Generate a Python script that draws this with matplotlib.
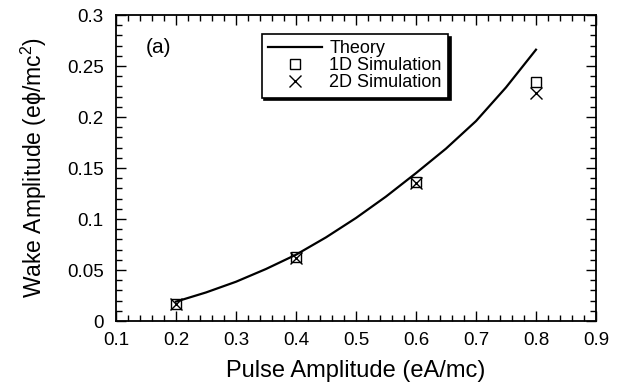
import matplotlib
matplotlib.use("Agg")
import matplotlib.pyplot as plt
from matplotlib.ticker import MultipleLocator

plt.rcParams['font.family'] = ['Liberation Sans', 'DejaVu Sans']
plt.rcParams['mathtext.fontset'] = 'custom'
plt.rcParams['mathtext.rm'] = 'Liberation Sans'
plt.rcParams['mathtext.it'] = 'Liberation Sans'

# Theory curve
theory_x = [0.2, 0.25, 0.3, 0.35, 0.4, 0.45, 0.5, 0.55, 0.6, 0.65, 0.7, 0.75, 0.8]
theory_y = [0.019, 0.028, 0.0385, 0.051, 0.065, 0.082, 0.101, 0.122, 0.145, 0.169, 0.196, 0.229, 0.266]

sim_x = [0.2, 0.4, 0.6, 0.8]
sim1d_y = [0.017, 0.063, 0.136, 0.234]
sim2d_y = [0.017, 0.062, 0.135, 0.224]

fig = plt.figure(figsize=(6.21, 3.91), dpi=100)
ax = fig.add_axes([0.1868, 0.179, 0.9597 - 0.1868, 0.9616 - 0.179])

ax.plot(theory_x, theory_y, color='black', lw=1.6, label='Theory', solid_joinstyle='round')
ax.plot(sim_x, sim1d_y, ls='none', marker='s', mfc='none', mec='black', ms=7.5, mew=1.0, label='1D Simulation')
ax.plot(sim_x, sim2d_y, ls='none', marker='x', color='black', ms=8, mew=1.0, label='2D Simulation')

ax.set_xlim(0.1, 0.9)
ax.set_ylim(0, 0.3)
ax.xaxis.set_minor_locator(MultipleLocator(0.02))
ax.yaxis.set_minor_locator(MultipleLocator(0.01))
ax.set_xticks([0.1, 0.2, 0.3, 0.4, 0.5, 0.6, 0.7, 0.8, 0.9])
ax.set_xticklabels(['0.1', '0.2', '0.3', '0.4', '0.5', '0.6', '0.7', '0.8', '0.9'])
ax.set_yticks([0, 0.05, 0.1, 0.15, 0.2, 0.25, 0.3])
ax.set_yticklabels(['0', '0.05', '0.1', '0.15', '0.2', '0.25', '0.3'])
ax.tick_params(which='both', direction='in', top=True, right=True, labelsize=13.5, width=1)
ax.tick_params(axis='x', which='major', length=7, pad=8)
ax.tick_params(axis='y', which='major', length=7, pad=9)
ax.tick_params(which='minor', length=4)
for s in ax.spines.values():
    s.set_linewidth(1.3)

ax.set_xlabel('Pulse Amplitude (eA/mc)', fontsize=17, labelpad=8)
ax.set_ylabel('Wake Amplitude (eϕ/mc$^{2}$)', fontsize=16.5, labelpad=13)

ax.text(0.062, 0.895, '(a)', transform=ax.transAxes, fontsize=15, va='center', ha='left')

leg = ax.legend(loc='upper left', bbox_to_anchor=(0.3035, 0.938), borderaxespad=0,
                fancybox=False, edgecolor='black', fontsize=13,
                shadow={'color': 'black', 'alpha': 1.0, 'ox': 2, 'oy': -2},
                handlelength=3.0, handletextpad=0.4, labelspacing=0.0,
                borderpad=0.35, framealpha=1)
leg.get_frame().set_linewidth(1.2)

fig.savefig('out.png', dpi=100)
